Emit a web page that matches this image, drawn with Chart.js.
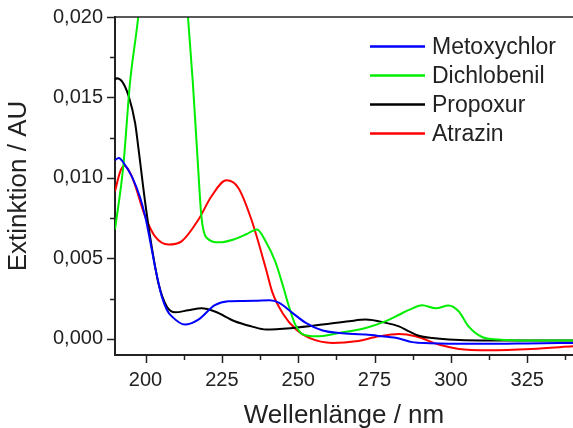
<!DOCTYPE html>
<html>
<head>
<meta charset="utf-8">
<script src="https://cdn.jsdelivr.net/npm/chart.js@4.4.1/dist/chart.umd.min.js"></script>
<style>
    body { margin: 0; background: #fff; }
    #wrap { width: 573px; height: 428px; position: relative; }
</style>
</head>
<body>
<div id="wrap"><canvas id="spectra-chart"></canvas></div>
<script>
// wavelength (nm) / extinction (AU)
const metoxychlor_nm = [190, 191.2, 193.3, 195.5, 198.2, 199.9, 202, 203.1, 205.3, 207, 208.6, 212.9, 217.3, 222.7, 227.1, 232, 236, 240.6, 243.8, 248.2, 252.5, 258, 263.4, 268, 272.1, 277.5, 283, 287.3, 293, 299.3, 307, 315.6, 325, 340]
const metoxychlor_ext = [0.0111, 0.01124, 0.0108, 0.0101, 0.0088, 0.0076, 0.0056, 0.0045, 0.00265, 0.0018, 0.0014, 0.00089, 0.0012, 0.0021, 0.00234, 0.00236, 0.00237, 0.0024, 0.00224, 0.0016, 0.001, 0.00052, 0.00037, 0.0003, 0.00027, 0.00016, 0.00003, -0.0002, -0.00027, -0.0003, -0.0003, -0.0003, -0.00028, -0.00025]

const dichlobenil_nm = [190, 192.7, 194.9, 197.6, 200, 204, 208, 211.5, 213.9, 215.5, 217.2, 218.3, 219.9, 224.2, 229.2, 233, 236.5, 239.5, 242.5, 245, 247, 249, 251.4, 255.8, 263.4, 272.1, 278.7, 283, 286.3, 290.6, 295, 299.3, 302.6, 305.8, 310.2, 315.6, 325, 340]
const dichlobenil_ext = [0.0068, 0.0107, 0.0159, 0.020, 0.025, 0.031, 0.032, 0.027, 0.020, 0.0159, 0.0107, 0.0076, 0.0063, 0.006, 0.0062, 0.0065, 0.0068, 0.006, 0.0048, 0.0033, 0.002, 0.0009, 0.0003, 0.00016, 0.00037, 0.00068, 0.0011, 0.0015, 0.0018, 0.00209, 0.0019, 0.00207, 0.0017, 0.00078, 0.00012, -0.00004, -0.0001, -0.0001]

const propoxur_nm = [190, 190.6, 192.3, 194.5, 196.6, 197.7, 199.9, 202, 204.2, 207, 209.7, 214, 218.4, 222.7, 229.2, 234.7, 239.5, 248.2, 258, 266.7, 272.1, 278.7, 283, 286.3, 289.5, 294, 299.3, 310, 325, 340]
const propoxur_ext = [0.0161, 0.0162, 0.016, 0.01507, 0.0134, 0.0118, 0.00845, 0.00575, 0.00348, 0.002, 0.00165, 0.00178, 0.0019, 0.0017, 0.0011, 0.00078, 0.00058, 0.00068, 0.00089, 0.0011, 0.0012, 0.001, 0.00078, 0.00047, 0.0002, 0.00005, -0.00004, -0.0001, -0.0001, -0.0001]

const atrazin_nm = [190, 191.7, 193.1, 195.5, 199.9, 203.1, 207.5, 211.8, 217.3, 221.6, 226.5, 230.4, 234.7, 239.5, 241.6, 244.9, 249.3, 253.6, 261.2, 268.9, 276.5, 283, 288.4, 296, 302.6, 312.4, 326.5, 340]
const atrazin_ext = [0.00917, 0.0104, 0.01076, 0.0101, 0.0076, 0.00637, 0.00586, 0.00606, 0.0074, 0.00886, 0.00985, 0.00938, 0.0074, 0.0043, 0.00286, 0.0016, 0.00058, 0.00006, -0.00025, -0.00015, 0.00016, 0.0003, 0.00016, -0.00035, -0.00062, -0.0007, -0.00062, -0.00046]

const series_names = ['Metoxychlor', 'Dichlobenil', 'Propoxur', 'Atrazin']
const series_colors = ['#0000ff', '#00ee00', '#000000', '#ff0000']

const x_major_ticks = [200, 225, 250, 275, 300, 325]
const x_minor_ticks = [212.5, 237.5, 262.5, 287.5, 312.5, 337.5]
const y_major_ticks = [0, 0.005, 0.010, 0.015, 0.020]
const y_minor_ticks = [0.0025, 0.0075, 0.0125, 0.0175]

const FONT = "'Liberation Sans', Arial, sans-serif"
const AXIS_COLOR = '#222'

const to_points = (xs, ys) => xs.map((x, i) => ({ x: x, y: ys[i] }))

const all_series = [
    to_points(metoxychlor_nm, metoxychlor_ext),
    to_points(dichlobenil_nm, dichlobenil_ext),
    to_points(propoxur_nm, propoxur_ext),
    to_points(atrazin_nm, atrazin_ext),
]

// tick marks, top frame line and the legend box inside the plot
const axis_marks = {
    id: 'axis_marks',
    afterDraw(chart) {
        const { ctx, chartArea } = chart
        const xs = chart.scales.x
        const ys = chart.scales.y
        ctx.save()
        ctx.strokeStyle = AXIS_COLOR

        ctx.lineWidth = 1.5
        ctx.beginPath()
        ctx.moveTo(chartArea.left, chartArea.top)
        ctx.lineTo(chartArea.right, chartArea.top)
        ctx.stroke()

        const x_tick = (v, len) => {
            const px = Math.round(xs.getPixelForValue(v)) + 0.5
            ctx.beginPath()
            ctx.moveTo(px, chartArea.bottom)
            ctx.lineTo(px, chartArea.bottom + len)
            ctx.stroke()
        }
        const y_tick = (v, len) => {
            const py = Math.round(ys.getPixelForValue(v)) + 0.5
            ctx.beginPath()
            ctx.moveTo(chartArea.left, py)
            ctx.lineTo(chartArea.left - len, py)
            ctx.stroke()
        }
        x_major_ticks.forEach(v => x_tick(v, 8))
        x_minor_ticks.forEach(v => x_tick(v, 5))
        y_major_ticks.forEach(v => y_tick(v, 8))
        y_minor_ticks.forEach(v => y_tick(v, 5))

        // legend
        ctx.font = '23px ' + FONT
        ctx.textBaseline = 'middle'
        ctx.textAlign = 'left'
        chart.data.datasets.forEach((ds, i) => {
            const y = 46.5 + i * 29
            ctx.strokeStyle = ds.borderColor
            ctx.lineWidth = 2.5
            ctx.beginPath()
            ctx.moveTo(370, y)
            ctx.lineTo(425, y)
            ctx.stroke()
            ctx.fillStyle = '#222'
            ctx.fillText(ds.label, 432, y + 1)
        })
        ctx.restore()
    }
}

const ctx = document.getElementById('spectra-chart')

new Chart(ctx, {
    type: 'line',
    data: {
        datasets: all_series.map((pts, i) => ({
            label: series_names[i],
            data: pts,
            borderColor: series_colors[i],
            backgroundColor: series_colors[i],
            borderWidth: 2,
            pointRadius: 0,
            cubicInterpolationMode: 'monotone',
            fill: false,
        }))
    },
    options: {
        responsive: true,
        maintainAspectRatio: false,
        animation: false,
        layout: { padding: { top: 17, right: 0, left: 0, bottom: 0 } },
        scales: {
            x: {
                type: 'linear',
                min: 190,
                max: 340,
                afterBuildTicks: (scale) => {
                    scale.ticks = x_major_ticks.map(v => ({ value: v }))
                },
                afterFit: (scale) => {
                    scale.height = 73
                    scale.paddingLeft = 0
                    scale.paddingRight = 0
                },
                grid: { drawOnChartArea: false, drawTicks: false },
                border: { display: true, color: AXIS_COLOR, width: 2 },
                ticks: {
                    autoSkip: false,
                    maxRotation: 0,
                    padding: 13,
                    color: '#222',
                    font: { family: FONT, size: 20 },
                    callback: (v) => v.toString()
                },
                title: {
                    display: true,
                    text: 'Wellenlänge / nm',
                    color: '#222',
                    font: { family: FONT, size: 26, lineHeight: 1 },
                    padding: { top: 0, bottom: -1 }
                }
            },
            y: {
                type: 'linear',
                min: -0.001,
                max: 0.020,
                afterBuildTicks: (scale) => {
                    scale.ticks = y_major_ticks.map(v => ({ value: v }))
                },
                afterFit: (scale) => {
                    scale.width = 115
                    scale.paddingTop = 0
                    scale.paddingBottom = 0
                },
                grid: { drawOnChartArea: false, drawTicks: false },
                border: { display: true, color: AXIS_COLOR, width: 2 },
                ticks: {
                    padding: 12,
                    color: '#222',
                    font: { family: FONT, size: 20 },
                    callback: (v) => v.toFixed(3).replace('.', ',')
                },
                title: {
                    display: true,
                    text: 'Extinktion / AU',
                    color: '#222',
                    font: { family: FONT, size: 26, lineHeight: 1 },
                    padding: { top: 6, bottom: 0 }
                }
            }
        },
        plugins: {
            legend: { display: false },
            tooltip: { enabled: false }
        }
    },
    plugins: [axis_marks]
})
</script>
</body>
</html>
